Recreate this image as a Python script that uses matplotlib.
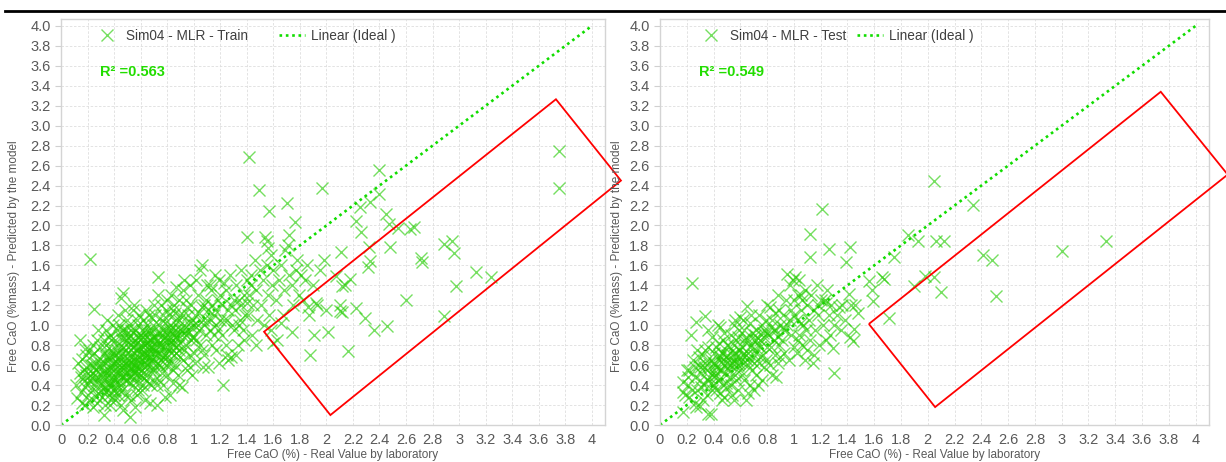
import numpy as np
import matplotlib
matplotlib.use("Agg")
import matplotlib.pyplot as plt
from matplotlib.patches import Polygon
from matplotlib.lines import Line2D
from matplotlib.ticker import FormatStrFormatter, FuncFormatter

plt.rcParams['font.family'] = ['Liberation Sans', 'DejaVu Sans']

# ---- data ----
train_core = [
    (0.12,0.27),(0.14,0.85),(0.13,0.62),(0.15,0.48),(0.16,0.22),(0.17,0.55),(0.18,0.38),(0.19,0.70),(0.15,0.33),
    (0.18,0.20),(0.17,0.44),(0.19,0.58),(0.16,0.66),(0.11,0.40),(0.20,0.30),(0.19,0.50),(0.14,0.52),(0.18,0.76),
    (0.22,1.66),(0.25,1.16),(0.21,0.45),(0.22,0.60),(0.23,0.35),(0.24,0.52),(0.25,0.72),(0.26,0.28),(0.27,0.45),
    (0.28,0.58),(0.29,0.40),(0.21,0.25),(0.23,0.70),(0.24,0.18),(0.26,0.62),(0.27,0.85),(0.28,0.32),(0.29,0.66),
    (0.30,0.50),(0.22,0.50),(0.25,0.40),(0.26,0.55),(0.28,0.95),(0.24,0.80),(0.27,0.22),(0.29,0.78),(0.23,0.47),
    (0.30,0.35),(0.21,0.75),(0.26,0.48),
    (0.32,0.10),(0.31,0.28),(0.32,0.45),(0.33,0.62),(0.34,0.80),(0.35,0.35),(0.36,0.55),(0.37,0.70),(0.38,0.25),
    (0.39,0.48),(0.31,0.58),(0.33,0.38),(0.34,0.95),(0.35,0.50),(0.36,0.68),(0.37,0.42),(0.38,0.85),(0.39,0.62),
    (0.40,0.30),(0.32,0.72),(0.33,0.20),(0.35,1.05),(0.36,0.30),(0.37,0.58),(0.38,0.75),(0.39,1.00),(0.31,0.40),
    (0.34,0.52),(0.36,0.88),(0.38,0.40),(0.40,0.70),(0.35,0.65),(0.33,0.50),(0.37,0.20),(0.39,0.35),(0.32,0.85),
    (0.34,0.33),(0.36,0.45),(0.40,0.55),(0.38,0.60),
    (0.41,0.45),(0.42,0.62),(0.43,0.80),(0.44,0.35),(0.45,0.55),(0.46,0.72),(0.47,1.32),(0.45,1.27),(0.48,0.90),
    (0.49,0.50),(0.41,0.25),(0.42,0.95),(0.43,0.55),(0.44,0.68),(0.45,0.40),(0.46,0.85),(0.47,0.60),(0.48,0.30),
    (0.49,0.75),(0.50,1.05),(0.41,0.70),(0.42,0.40),(0.43,1.10),(0.44,0.52),(0.45,0.20),(0.46,0.58),(0.47,0.78),
    (0.48,0.65),(0.49,0.95),(0.50,0.45),(0.41,0.85),(0.43,0.30),(0.44,1.00),(0.46,0.48),(0.47,0.15),(0.48,1.15),
    (0.49,0.62),(0.50,0.72),(0.42,0.75),(0.44,0.60),(0.46,0.35),(0.48,0.45),(0.45,0.88),(0.43,0.65),(0.47,0.95),
    (0.52,0.08),(0.51,0.55),(0.52,0.70),(0.53,0.85),(0.54,0.40),(0.55,0.60),(0.56,0.95),(0.57,0.50),(0.58,0.75),
    (0.59,1.10),(0.51,0.30),(0.52,0.90),(0.53,0.62),(0.54,0.78),(0.55,0.45),(0.56,0.68),(0.57,0.82),(0.58,0.35),
    (0.59,0.58),(0.60,0.90),(0.51,1.00),(0.53,0.25),(0.54,1.15),(0.55,0.72),(0.56,0.52),(0.57,0.65),(0.58,1.00),
    (0.59,0.42),(0.60,0.70),(0.52,0.48),(0.53,0.58),(0.55,0.85),(0.56,0.18),(0.57,1.05),(0.58,0.62),(0.60,0.50),
    (0.51,0.65),(0.54,0.55),(0.56,0.80),(0.59,0.78),(0.55,1.20),(0.57,0.30),(0.53,0.95),(0.58,0.88),(0.54,0.65),
    (0.61,0.60),(0.62,0.78),(0.63,0.95),(0.64,0.45),(0.65,0.70),(0.66,1.10),(0.67,0.55),(0.68,0.85),(0.69,1.00),
    (0.70,0.65),(0.61,0.35),(0.62,1.05),(0.63,0.68),(0.64,0.82),(0.65,0.50),(0.66,0.75),(0.67,0.92),(0.68,0.40),
    (0.69,0.72),(0.70,1.20),(0.61,0.88),(0.62,0.52),(0.63,0.25),(0.64,1.15),(0.65,0.88),(0.66,0.62),(0.67,0.78),
    (0.68,1.08),(0.69,0.55),(0.70,0.85),(0.62,0.65),(0.64,0.70),(0.66,0.42),(0.68,0.65),(0.70,0.45),(0.63,0.80),
    (0.65,1.00),(0.67,0.22),(0.69,0.88),(0.61,0.72),(0.66,0.95),(0.68,0.78),
    (0.71,0.75),(0.72,0.92),(0.73,1.48),(0.74,0.60),(0.75,0.80),(0.76,1.05),(0.77,0.68),(0.78,0.88),(0.79,1.15),
    (0.80,0.50),(0.71,0.55),(0.72,0.40),(0.73,0.85),(0.74,1.00),(0.75,0.65),(0.76,0.78),(0.77,0.95),(0.78,0.28),
    (0.79,0.72),(0.80,0.90),(0.71,1.10),(0.72,0.70),(0.73,0.62),(0.74,0.82),(0.75,1.20),(0.76,0.52),(0.77,0.85),
    (0.78,1.02),(0.79,0.60),(0.80,1.25),(0.72,0.20),(0.74,0.45),(0.76,0.90),(0.78,0.70),(0.80,0.78),(0.73,1.30),
    (0.77,0.40),(0.79,0.95),
    (0.81,0.85),(0.82,1.00),(0.83,0.72),(0.84,1.15),(0.85,0.90),(0.86,0.60),(0.87,1.05),(0.88,0.80),(0.89,1.25),
    (0.90,0.95),(0.81,0.62),(0.82,0.30),(0.83,1.30),(0.84,0.82),(0.85,0.70),(0.86,1.12),(0.87,0.88),(0.88,0.50),
    (0.89,0.75),(0.90,1.10),(0.81,1.10),(0.83,0.95),(0.84,0.55),(0.86,0.78),(0.87,1.38),(0.88,0.98),(0.90,0.68),
    (0.82,0.78),(0.85,1.20),(0.89,0.40),(0.86,0.95),(0.84,0.42),
    (0.91,0.90),(0.92,1.10),(0.93,0.75),(0.94,1.25),(0.95,0.95),(0.96,0.60),(0.97,1.40),(0.98,0.85),(0.99,1.05),
    (1.00,0.72),(0.91,0.38),(0.92,1.35),(0.93,1.00),(0.94,0.80),(0.95,1.18),(0.96,0.92),(0.97,0.70),(0.98,1.20),
    (0.99,0.50),(1.00,1.00),(0.93,1.45),(0.95,0.55),(0.97,1.02),(0.99,0.88),(0.92,0.65),
    (1.01,1.10),(1.02,0.85),(1.03,1.30),(1.04,0.95),(1.05,1.55),(1.06,0.75),(1.07,1.05),(1.08,1.20),(1.09,0.90),
    (1.10,1.40),(1.01,0.62),(1.02,1.45),(1.03,1.00),(1.05,0.80),(1.06,1.18),(1.07,0.58),(1.08,1.00),(1.09,1.25),
    (1.10,1.05),(1.04,1.12),(1.06,1.60),(1.08,0.70),
    (1.11,1.15),(1.12,0.95),(1.13,1.35),(1.14,0.80),(1.15,1.10),(1.16,1.50),(1.17,1.00),(1.18,1.25),(1.19,0.62),
    (1.20,1.05),(1.11,0.58),(1.12,1.40),(1.13,1.05),(1.14,1.20),(1.15,0.90),(1.16,1.15),(1.18,0.95),(1.19,1.45),
    (1.20,1.30),(1.17,0.75),
    (1.21,1.20),(1.22,0.40),(1.23,1.05),(1.24,1.35),(1.25,0.70),(1.26,1.15),(1.27,1.50),(1.28,0.68),(1.29,1.00),
    (1.30,1.25),(1.21,0.90),(1.23,1.42),(1.25,1.05),(1.26,0.65),(1.28,1.20),(1.30,0.95),(1.24,0.80),
    (1.31,1.15),(1.32,1.40),(1.33,0.80),(1.34,1.25),(1.35,1.05),(1.36,1.55),(1.37,0.95),(1.38,1.30),(1.39,1.10),
    (1.40,1.45),(1.32,0.70),(1.34,1.00),(1.36,1.20),(1.38,0.85),(1.40,1.22),
    (1.42,2.69),(1.40,1.88),(1.41,1.10),(1.42,1.30),(1.43,1.50),(1.44,0.90),(1.45,1.20),(1.46,1.65),(1.47,1.35),
    (1.48,1.05),(1.49,2.36),(1.43,1.40),(1.47,0.80),(1.50,1.55),
    (1.54,1.88),(1.55,1.84),(1.56,1.77),(1.57,2.15),(1.51,1.20),(1.52,1.45),(1.53,1.00),(1.55,1.60),(1.56,1.30),
    (1.57,1.10),(1.58,1.70),(1.59,1.40),(1.60,1.55),(1.58,0.95),
    (1.62,1.25),(1.63,0.85),(1.64,1.45),(1.66,1.02),(1.66,1.60),(1.67,1.10),(1.68,1.35),(1.70,2.23),(1.71,1.80),
    (1.72,1.90),(1.72,1.50),(1.74,1.40),(1.74,0.93),(1.75,1.20),(1.76,2.03),(1.77,1.55),(1.78,1.65),(1.79,1.30),
    (1.60,0.82),(1.69,1.75),
    (1.81,1.50),(1.82,1.25),(1.84,1.45),(1.85,1.60),(1.86,1.18),(1.87,1.10),(1.88,0.70),(1.90,1.40),(1.91,0.90),
    (1.92,1.22),(1.93,1.20),(1.95,1.55),(1.98,1.65),(2.00,1.15),(1.97,2.38),(2.01,0.93),
]
train_dense = [
    (0.35,0.75),(0.37,0.90),(0.40,0.62),(0.42,0.50),(0.43,0.72),(0.45,0.65),(0.46,0.95),(0.48,0.55),(0.50,0.60),
    (0.50,0.85),(0.52,0.62),(0.53,0.75),(0.54,0.92),(0.55,0.52),(0.56,0.60),(0.57,0.75),(0.58,0.52),(0.59,0.68),
    (0.60,0.80),(0.61,0.95),(0.62,0.88),(0.63,0.58),(0.64,0.62),(0.65,0.78),(0.66,0.85),(0.67,0.68),(0.68,0.95),
    (0.69,0.62),(0.70,0.75),(0.71,0.88),(0.72,0.80),(0.73,0.72),(0.74,0.92),(0.75,0.58),(0.76,0.70),(0.77,1.10),
    (0.78,0.78),(0.79,0.85),(0.80,0.68),(0.81,0.95),(0.82,0.88),(0.83,0.62),(0.84,0.98),(0.85,0.80),(0.86,0.88),
    (0.87,0.72),(0.88,0.90),(0.89,1.05),(0.90,0.82),(0.92,0.95),(0.94,0.90),(0.96,1.10),(0.98,0.98),(1.00,0.88),
    (0.28,0.48),(0.30,0.62),(0.32,0.55),(0.34,0.68),(0.36,0.40),(0.38,0.52),(0.40,0.45),(0.41,0.35),(0.44,0.45),
    (0.47,0.50),(0.49,0.85),(0.51,0.42),(0.53,0.50),(0.57,0.58),(0.61,0.48),(0.63,0.72),(0.65,0.60),(0.67,0.85),
    (0.69,0.78),(0.25,0.58),(0.23,0.60),(0.20,0.42),(0.45,0.75),(0.52,0.80),(0.59,0.88),(0.62,0.40),
]
train_outliers = [
    (2.07,1.49),(2.10,1.20),(2.10,1.14),(2.11,1.73),(2.12,1.13),(2.12,1.39),(2.14,1.40),(2.16,0.74),(2.18,1.46),
    (2.22,2.04),(2.22,1.17),(2.25,2.19),(2.26,1.93),(2.29,1.07),(2.31,1.58),(2.32,1.78),(2.33,2.24),(2.33,1.64),
    (2.36,0.95),(2.40,2.56),(2.40,2.32),(2.45,2.12),(2.46,0.99),(2.47,2.01),(2.48,1.78),(2.54,1.97),(2.60,1.25),
    (2.63,1.96),(2.66,1.98),(2.71,1.67),(2.72,1.63),(2.89,1.81),(2.89,1.09),(2.95,1.84),(2.96,1.72),(2.98,1.39),
    (3.13,1.53),(3.24,1.48),(3.75,2.75),(3.75,2.38),
]

test_core = [
    (0.17,0.13),(0.17,0.33),(0.17,0.43),(0.19,0.30),(0.20,0.55),(0.21,0.40),(0.22,0.55),(0.23,0.90),(0.24,1.42),
    (0.25,0.65),(0.26,0.22),(0.26,0.48),(0.27,0.18),(0.27,1.03),(0.28,0.35),(0.28,0.75),(0.29,0.60),(0.30,0.19),
    (0.30,0.45),(0.24,0.35),(0.22,0.28),(0.29,0.68),(0.26,0.58),(0.21,0.48),
    (0.31,0.52),(0.32,0.70),(0.33,0.40),(0.34,1.09),(0.34,0.62),(0.35,0.30),(0.36,0.11),(0.36,0.78),(0.37,0.48),
    (0.38,0.11),(0.38,0.65),(0.39,0.35),(0.39,0.88),(0.40,0.55),(0.40,0.72),(0.31,0.38),(0.33,0.58),(0.35,0.45),
    (0.37,0.62),(0.39,0.50),(0.32,0.25),(0.36,0.95),(0.38,0.42),(0.40,0.40),(0.34,0.75),
    (0.41,0.60),(0.42,0.78),(0.43,0.45),(0.43,1.00),(0.44,0.65),(0.45,0.32),(0.45,0.98),(0.46,0.55),(0.46,0.72),
    (0.47,0.40),(0.47,0.85),(0.48,0.60),(0.48,0.28),(0.49,0.68),(0.49,0.50),(0.50,0.80),(0.50,0.38),(0.41,0.50),
    (0.42,0.35),(0.44,0.82),(0.45,0.55),(0.46,0.25),(0.47,0.62),(0.48,0.92),(0.49,0.42),(0.44,0.70),(0.42,0.58),
    (0.50,0.62),
    (0.51,0.55),(0.52,0.72),(0.53,0.40),(0.53,0.90),(0.54,0.62),(0.55,0.80),(0.55,0.25),(0.56,1.05),(0.56,0.50),
    (0.57,0.68),(0.57,0.85),(0.58,0.35),(0.58,0.60),(0.59,0.75),(0.59,0.95),(0.60,0.55),(0.60,1.08),(0.51,0.80),
    (0.52,0.48),(0.54,0.30),(0.55,0.65),(0.56,0.72),(0.57,0.45),(0.58,0.88),(0.59,0.62),(0.60,0.68),(0.53,0.60),
    (0.55,1.00),
    (0.61,0.78),(0.62,0.62),(0.63,0.95),(0.63,0.45),(0.64,0.70),(0.64,0.25),(0.65,1.19),(0.65,0.85),(0.66,0.60),
    (0.66,0.72),(0.67,1.02),(0.67,0.40),(0.68,0.65),(0.68,0.80),(0.69,0.55),(0.69,0.92),(0.70,0.70),(0.70,0.35),
    (0.61,0.50),(0.62,1.05),(0.64,0.88),(0.66,0.32),(0.68,1.10),(0.70,0.85),
    (0.71,0.75),(0.72,0.95),(0.72,0.50),(0.73,0.80),(0.74,1.10),(0.74,0.62),(0.75,0.85),(0.76,0.45),(0.76,1.00),
    (0.77,0.70),(0.78,0.88),(0.78,0.58),(0.79,1.05),(0.80,0.78),(0.80,1.20),(0.73,0.40),(0.75,0.68),(0.77,0.92),
    (0.79,0.65),(0.71,0.90),
    (0.81,0.90),(0.82,0.60),(0.82,1.18),(0.83,0.78),(0.84,1.05),(0.84,0.50),(0.85,0.85),(0.86,1.12),(0.86,0.70),
    (0.87,0.95),(0.88,0.62),(0.88,1.30),(0.89,0.80),(0.90,1.00),(0.90,0.68),(0.83,0.98),(0.87,0.48),(0.89,1.15),
    (0.91,0.85),(0.92,1.10),(0.93,0.72),(0.94,1.25),(0.95,1.00),(0.95,1.51),(0.96,0.65),(0.97,1.40),(0.98,0.90),
    (0.98,1.15),(0.99,1.45),(1.00,0.78),(1.00,1.25),(0.93,0.95),(0.97,1.05),
    (1.01,1.48),(1.02,1.05),(1.02,0.72),(1.03,1.30),(1.04,0.90),(1.04,1.45),(1.05,1.15),(1.06,0.80),(1.06,1.25),
    (1.07,1.00),(1.08,0.65),(1.08,1.35),(1.09,0.95),(1.10,1.20),(1.10,0.75),(1.05,1.02),(1.03,0.85),
    (1.12,1.91),(1.12,1.68),(1.11,1.05),(1.12,0.85),(1.13,1.30),(1.14,0.62),(1.15,1.15),(1.16,0.95),(1.17,1.40),
    (1.18,1.10),(1.19,0.80),(1.20,1.25),(1.21,2.17),(1.15,0.70),(1.18,1.20),
    (1.22,1.00),(1.23,1.25),(1.24,0.85),(1.25,1.35),(1.26,1.76),(1.26,1.10),(1.27,0.90),(1.28,1.20),(1.29,0.77),
    (1.30,0.52),(1.30,1.00),(1.24,1.22),
    (1.32,1.10),(1.34,1.18),(1.35,0.95),(1.36,1.20),(1.39,1.63),(1.41,1.31),(1.42,1.78),(1.42,0.88),(1.43,1.20),
    (1.44,0.84),(1.45,0.96),(1.46,1.20),(1.38,1.05),(1.48,1.12),
]
test_dense = [
    (0.40,0.62),(0.45,0.68),(0.50,0.70),(0.52,0.60),(0.55,0.72),(0.57,0.62),(0.60,0.75),(0.62,0.70),(0.65,0.65),
    (0.67,0.78),(0.70,0.62),(0.72,0.85),(0.75,0.78),(0.78,0.95),(0.80,0.92),(0.85,0.95),(0.88,0.88),(0.92,0.98),
    (1.00,1.10),(1.05,1.30),(0.35,0.55),(0.30,0.58),(0.42,0.50),(0.47,0.72),(0.63,0.85),
]
test_outliers = [
    (1.56,1.44),(1.58,1.35),(1.59,1.24),(1.66,1.48),(1.67,1.46),(1.71,1.07),(1.75,1.68),(1.85,1.90),(1.90,1.39),
    (1.93,1.84),(1.98,1.49),(2.05,2.45),(2.05,1.48),(2.06,1.84),(2.10,1.33),(2.12,1.84),(2.34,2.21),(2.41,1.70),
    (2.48,1.65),(2.51,1.29),(3.00,1.74),(3.33,1.84),
]

r2_values = [0.563, 0.549]
series_names = ['Sim04 - MLR - Train', 'Sim04 - MLR - Test']
ideal_x = [0, 4]
ideal_y = [0, 4]
# red highlight boxes (corners in data units)
box_train = [(1.53, 0.935), (3.73, 3.265), (4.22, 2.45), (2.03, 0.10)]
box_test = [(1.56, 1.013), (3.74, 3.34), (4.24, 2.51), (2.055, 0.18)]

green = '#22cc00'
gray_txt = '#595959'

fig = plt.figure(figsize=(12.26, 4.62), dpi=100)
ax1 = fig.add_axes([0.0498, 0.080, 0.4437, 0.879])
ax2 = fig.add_axes([0.5383, 0.080, 0.4478, 0.879])

panels = [(ax1, train_core + train_dense + train_outliers, box_train, 0, 0.060, 2.3, -0.075),
          (ax2, test_core + test_dense + test_outliers, box_test, 1, 0.069, 0.8, -0.067)]

for ax, pts, box, k, leg_x, col_sp, ylab_x in panels:
    xs = [p[0] for p in pts]
    ys = [p[1] for p in pts]
    ax.plot(xs, ys, 'x', color=green, alpha=0.62, markersize=8, markeredgewidth=1.0,
            label=series_names[k], zorder=3)
    ax.plot(ideal_x, ideal_y, color='#11dd00', linestyle=(0, (1, 1.4)), linewidth=1.9,
            label='Linear (Ideal )', zorder=2)

    ax.add_patch(Polygon(box, closed=True, fill=False, edgecolor='red', linewidth=1.3,
                         clip_on=False, zorder=4))

    ax.set_xlim(0, 4.1)
    ax.set_ylim(0, 4.07)
    ax.set_xticks(np.arange(0, 4.01, 0.2))
    ax.set_yticks(np.arange(0, 4.01, 0.2))
    ax.xaxis.set_major_formatter(FuncFormatter(lambda v, p: '%g' % round(v, 1)))
    ax.yaxis.set_major_formatter(FormatStrFormatter('%.1f'))
    ax.tick_params(axis='both', labelsize=10.5, colors='#d0d0d0', labelcolor=gray_txt,
                   length=4, width=0.8)
    ax.tick_params(axis='x', length=0, pad=6)
    ax.grid(True, color='#dedede', linestyle=(0, (3, 2)), linewidth=0.6)
    ax.set_axisbelow(True)
    for s in ax.spines.values():
        s.set_color('#d4d4d4')
        s.set_linewidth(1.0)

    ax.set_xlabel('Free CaO (%) - Real Value by laboratory', fontsize=8.5, color=gray_txt, labelpad=1)
    ax.set_ylabel('Free CaO (%mass) - Predicted by the model', fontsize=8.5, color=gray_txt)
    ax.yaxis.set_label_coords(ylab_x, 0.415)

    leg = ax.legend(loc='upper left', bbox_to_anchor=(leg_x, 0.975), ncol=2, frameon=False,
                    fontsize=9.8, handlelength=1.9, columnspacing=col_sp, handletextpad=0.45,
                    borderpad=0, borderaxespad=0)
    for t in leg.get_texts():
        t.set_color('#404040')

    ax.text(0.072, 0.87, 'R² =%.3f' % r2_values[k], transform=ax.transAxes, fontsize=10.5,
            fontweight='bold', color='#22dd00', va='center')

# thin black rule across the top
fig.add_artist(Line2D([0.004, 1.0], [0.977, 0.977], transform=fig.transFigure,
                      color='black', linewidth=2))

fig.savefig('out.png', dpi=100)
